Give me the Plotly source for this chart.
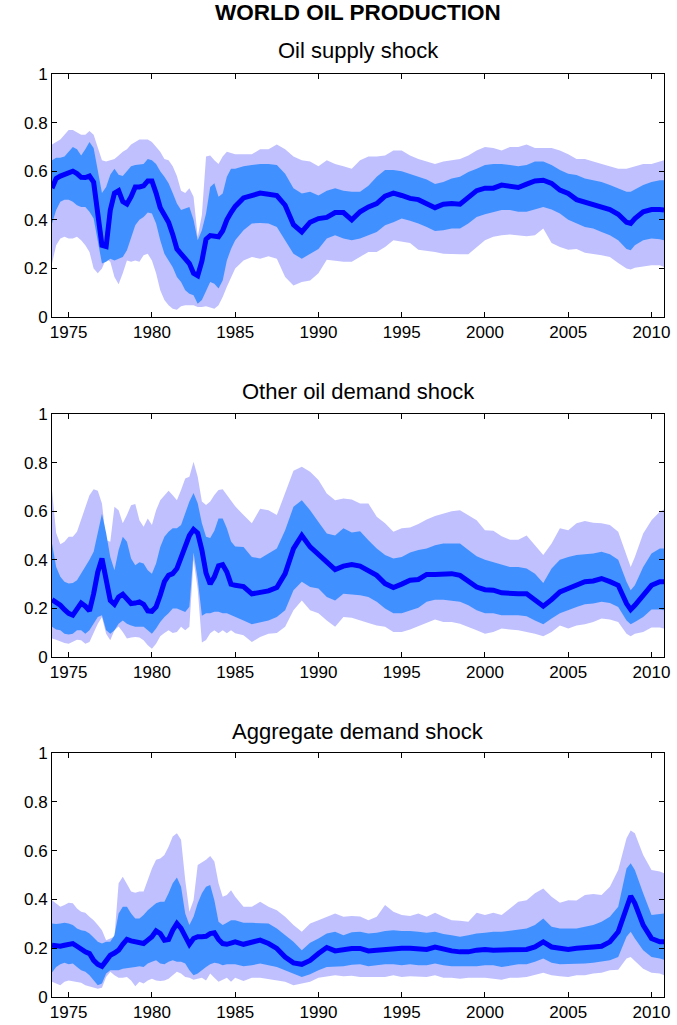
import plotly.graph_objects as go

# ---- time grid: quarterly 1974-1984, half-yearly 1985-2008.5, then tail ----
dates = ([1974 + 0.25 * i for i in range(44)]
         + [1985 + 0.5 * i for i in range(48)]
         + [2008.75, 2009.0, 2009.5, 2010.0, 2010.5, 2010.75])

panel_titles = ["Oil supply shock", "Other oil demand shock", "Aggregate demand shock"]
x_ticks = [1975, 1980, 1985, 1990, 1995, 2000, 2005, 2010]
y_ticks = [0, 0.2, 0.4, 0.6, 0.8, 1]
y_tick_labels = ["0", "0.2", "0.4", "0.6", "0.8", "1"]

# ---------------- Panel 1: Oil supply shock ----------------
supply_outer_hi = [0.71,0.72,0.73,0.75, 0.77,0.77,0.76,0.75, 0.75,0.765,0.75,0.70, 0.645,0.64,0.645,0.65,
    0.665,0.68,0.69,0.71, 0.72,0.73,0.73,0.73, 0.72,0.70,0.68,0.65, 0.645,0.62,0.58,0.52,
    0.51,0.53,0.495,0.33, 0.42,0.66,0.665,0.645, 0.63,0.66,0.68,0.675,
    0.67,0.67,0.67,0.69,0.69,0.71,0.69,0.66,0.645,0.64, 0.62,0.645,0.63,0.62,0.61,0.645,0.66,0.66,0.665,0.685,
    0.685,0.665,0.65,0.64,0.63,0.64,0.645,0.65,0.665,0.685, 0.70,0.695,0.685,0.70,0.70,0.71,0.695,0.695,0.695,0.685,
    0.67,0.65,0.65,0.64,0.63,0.62,0.61,0.61,
    0.615,0.62,0.63,0.63,0.64,0.645]
supply_inner_hi = [0.645,0.655,0.655,0.66, 0.68,0.70,0.69,0.665, 0.69,0.72,0.695,0.60, 0.51,0.535,0.585,0.61,
    0.585,0.58,0.60,0.62, 0.625,0.628,0.63,0.65, 0.645,0.63,0.60,0.577, 0.55,0.51,0.467,0.44,
    0.446,0.453,0.40,0.316, 0.357,0.426,0.535,0.55, 0.495,0.508,0.577,0.61,
    0.61,0.62,0.625,0.63,0.63,0.625,0.59,0.53,0.508,0.515, 0.50,0.52,0.53,0.52,0.515,0.515,0.54,0.577,0.605,0.605,
    0.60,0.59,0.577,0.566,0.547,0.556,0.57,0.577,0.597,0.61, 0.625,0.63,0.63,0.625,0.62,0.625,0.64,0.64,0.625,0.605,
    0.59,0.584,0.57,0.563,0.556,0.543,0.53,0.515,
    0.515,0.525,0.543,0.556,0.563,0.563]
supply_median = [0.53,0.57,0.58,0.585, 0.59,0.60,0.59,0.575, 0.574,0.58,0.555,0.44, 0.295,0.29,0.44,0.51,
    0.52,0.475,0.465,0.495, 0.535,0.535,0.54,0.56, 0.56,0.51,0.45,0.42, 0.39,0.34,0.28,0.26,
    0.24,0.22,0.18,0.17, 0.23,0.32,0.335,0.335, 0.33,0.355,0.40,0.43,
    0.455,0.49,0.50,0.51,0.505,0.50,0.46,0.38,0.35,0.39, 0.405,0.41,0.43,0.43,0.40,0.433,0.453,0.467,0.497,0.51,
    0.50,0.488,0.483,0.467,0.45,0.464,0.467,0.464,0.495,0.52, 0.53,0.53,0.543,0.538,0.533,0.547,0.56,0.563,0.55,0.522,
    0.508,0.483,0.474,0.464,0.453,0.442,0.423,0.39,
    0.385,0.405,0.433,0.442,0.442,0.44]
supply_inner_lo = [0.385,0.44,0.474,0.483, 0.483,0.474,0.46,0.453, 0.453,0.433,0.405,0.316, 0.22,0.227,0.24,0.233,
    0.24,0.247,0.275,0.33, 0.378,0.40,0.412,0.43, 0.426,0.385,0.316,0.26, 0.233,0.205,0.165,0.144,
    0.11,0.096,0.09,0.055, 0.07,0.11,0.144,0.137, 0.117,0.15,0.233,0.28,
    0.316,0.357,0.385,0.387,0.385,0.37,0.316,0.26,0.24,0.26, 0.28,0.323,0.336,0.323,0.316,0.323,0.336,0.35,0.378,0.39,
    0.405,0.396,0.385,0.37,0.354,0.357,0.364,0.364,0.385,0.412, 0.423,0.433,0.44,0.44,0.433,0.433,0.442,0.453,0.442,0.426,
    0.40,0.385,0.37,0.364,0.35,0.336,0.316,0.28,
    0.275,0.295,0.316,0.323,0.32,0.316]
supply_outer_lo = [0.22,0.295,0.323,0.33, 0.323,0.323,0.33,0.316, 0.295,0.268,0.20,0.18, 0.20,0.24,0.227,0.165,
    0.135,0.18,0.233,0.227, 0.233,0.227,0.254,0.26, 0.233,0.18,0.11,0.07, 0.048,0.034,0.03,0.044,
    0.048,0.048,0.048,0.041, 0.041,0.044,0.038,0.034, 0.048,0.082,0.124,0.165,
    0.20,0.233,0.247,0.24,0.25,0.24,0.165,0.13,0.144,0.15, 0.18,0.236,0.233,0.227,0.227,0.247,0.268,0.268,0.288,0.316,
    0.31,0.305,0.277,0.272,0.268,0.26,0.26,0.258,0.258,0.288, 0.316,0.33,0.336,0.34,0.336,0.332,0.336,0.364,0.305,0.288,
    0.277,0.28,0.264,0.26,0.254,0.247,0.222,0.20,
    0.195,0.203,0.209,0.213,0.213,0.206]

# ---------------- Panel 2: Other oil demand shock ----------------
other_outer_hi = [0.687,0.51,0.464,0.474, 0.495,0.495,0.515,0.563, 0.618,0.666,0.69,0.684, 0.632,0.48,0.474,0.618,
    0.604,0.55,0.584,0.625, 0.63,0.563,0.536,0.57, 0.543,0.604,0.645,0.666, 0.684,0.666,0.645,0.687,
    0.735,0.742,0.804,0.742, 0.64,0.626,0.64,0.667, 0.687,0.69,0.667,0.64,
    0.62,0.584,0.55,0.61,0.604,0.584,0.673,0.766,0.783,0.762, 0.728,0.673,0.645,0.652,0.648,0.632,0.632,0.577,0.55,0.515,
    0.53,0.533,0.547,0.566,0.58,0.59,0.60,0.604,0.584,0.563, 0.522,0.52,0.497,0.483,0.483,0.50,0.46,0.42,0.467,0.53,
    0.522,0.55,0.56,0.552,0.55,0.543,0.515,0.412,
    0.37,0.412,0.508,0.563,0.598,0.607]
other_inner_hi = [0.467,0.37,0.33,0.31, 0.302,0.305,0.316,0.343, 0.37,0.40,0.433,0.51, 0.59,0.51,0.412,0.357,
    0.44,0.495,0.474,0.405, 0.378,0.39,0.385,0.357, 0.343,0.385,0.453,0.495, 0.515,0.53,0.53,0.543,
    0.59,0.64,0.675,0.633, 0.55,0.495,0.49,0.52, 0.57,0.57,0.53,0.475,
    0.455,0.453,0.412,0.405,0.426,0.446,0.522,0.618,0.645,0.604, 0.556,0.508,0.50,0.53,0.512,0.518,0.48,0.446,0.42,0.405,
    0.412,0.43,0.44,0.446,0.46,0.467,0.467,0.467,0.44,0.415, 0.40,0.39,0.378,0.37,0.37,0.364,0.343,0.305,0.364,0.40,
    0.412,0.42,0.423,0.426,0.433,0.423,0.40,0.31,
    0.275,0.295,0.37,0.426,0.446,0.446]
other_median = [0.236,0.227,0.213,0.195, 0.18,0.172,0.20,0.222, 0.209,0.19,0.26,0.35, 0.405,0.316,0.233,0.217,
    0.247,0.258,0.236,0.22, 0.222,0.227,0.217,0.19, 0.188,0.206,0.254,0.31, 0.336,0.343,0.364,0.412,
    0.467,0.50,0.525,0.51, 0.44,0.345,0.30,0.33, 0.375,0.38,0.35,0.30,
    0.295,0.29,0.26,0.265,0.272,0.286,0.343,0.446,0.50,0.453, 0.42,0.39,0.36,0.374,0.38,0.374,0.357,0.336,0.302,0.286,
    0.30,0.316,0.319,0.34,0.34,0.34,0.343,0.336,0.31,0.288, 0.277,0.275,0.264,0.26,0.26,0.26,0.236,0.209,0.236,0.268,
    0.282,0.295,0.31,0.313,0.323,0.31,0.295,0.22,
    0.195,0.213,0.254,0.295,0.31,0.31]
other_inner_lo = [0.124,0.113,0.11,0.096, 0.093,0.096,0.11,0.11, 0.096,0.11,0.137,0.165, 0.172,0.11,0.096,0.11,
    0.137,0.15,0.137,0.13, 0.124,0.124,0.124,0.11, 0.096,0.117,0.144,0.165, 0.18,0.20,0.20,0.192,
    0.185,0.207,0.43,0.32, 0.17,0.18,0.18,0.186, 0.186,0.18,0.18,0.17,
    0.165,0.15,0.135,0.144,0.15,0.165,0.192,0.275,0.31,0.288, 0.282,0.247,0.233,0.26,0.257,0.254,0.247,0.227,0.20,0.18,
    0.18,0.192,0.203,0.227,0.236,0.236,0.233,0.227,0.213,0.192, 0.18,0.18,0.172,0.172,0.172,0.168,0.15,0.135,0.158,0.18,
    0.192,0.206,0.217,0.22,0.227,0.222,0.206,0.15,
    0.135,0.144,0.165,0.195,0.195,0.192]
other_outer_lo = [0.076,0.071,0.066,0.058, 0.055,0.062,0.071,0.069, 0.055,0.062,0.096,0.137, 0.165,0.096,0.069,0.11,
    0.126,0.103,0.076,0.08, 0.082,0.08,0.069,0.048, 0.034,0.055,0.085,0.099, 0.11,0.099,0.103,0.124,
    0.11,0.125,0.40,0.28, 0.06,0.07,0.098,0.11, 0.098,0.11,0.098,0.11,
    0.098,0.089,0.062,0.082,0.096,0.099,0.124,0.192,0.233,0.192, 0.18,0.15,0.124,0.165,0.162,0.15,0.14,0.13,0.124,0.103,
    0.103,0.113,0.126,0.14,0.154,0.144,0.144,0.137,0.124,0.11, 0.096,0.103,0.117,0.113,0.11,0.103,0.096,0.085,0.103,0.13,
    0.117,0.13,0.135,0.144,0.158,0.154,0.144,0.096,
    0.085,0.096,0.103,0.121,0.121,0.117]

# ---------------- Panel 3: Aggregate demand shock ----------------
agg_outer_hi = [0.397,0.384,0.37,0.377, 0.386,0.384,0.363,0.349, 0.345,0.329,0.315,0.295, 0.274,0.233,0.24,0.247,
    0.466,0.493,0.463,0.432, 0.427,0.432,0.432,0.479, 0.527,0.562,0.568,0.582, 0.616,0.658,0.671,0.644,
    0.479,0.349,0.397,0.541, 0.551,0.562,0.578,0.555, 0.466,0.411,0.418,0.438,
    0.411,0.37,0.37,0.39,0.37,0.356,0.329,0.295,0.267,0.301, 0.315,0.329,0.342,0.329,0.332,0.33,0.315,0.329,0.377,0.349,
    0.336,0.332,0.342,0.329,0.345,0.329,0.315,0.312,0.308,0.345, 0.336,0.345,0.336,0.363,0.39,0.397,0.425,0.445,0.411,0.386,
    0.397,0.395,0.418,0.422,0.418,0.452,0.521,0.651,
    0.682,0.671,0.582,0.521,0.514,0.507]
agg_inner_hi = [0.301,0.299,0.301,0.304, 0.301,0.295,0.281,0.274, 0.271,0.26,0.244,0.226, 0.219,0.226,0.226,0.253,
    0.342,0.37,0.37,0.342, 0.322,0.322,0.336,0.356, 0.37,0.384,0.39,0.39, 0.425,0.466,0.49,0.452,
    0.342,0.295,0.329,0.384, 0.425,0.452,0.459,0.397, 0.308,0.295,0.304,0.315,
    0.315,0.304,0.304,0.304,0.301,0.281,0.253,0.226,0.192,0.222, 0.24,0.26,0.267,0.253,0.265,0.267,0.26,0.263,0.271,0.274,
    0.271,0.271,0.267,0.263,0.267,0.258,0.253,0.247,0.253,0.26, 0.263,0.267,0.267,0.271,0.277,0.281,0.295,0.322,0.288,0.281,
    0.281,0.281,0.288,0.295,0.308,0.329,0.37,0.527,
    0.548,0.521,0.425,0.336,0.34,0.342]
agg_median = [0.212,0.208,0.208,0.212, 0.216,0.219,0.208,0.195, 0.185,0.178,0.15,0.134, 0.126,0.148,0.171,0.18,
    0.192,0.216,0.236,0.23, 0.226,0.226,0.219,0.233, 0.247,0.271,0.26,0.233, 0.236,0.274,0.301,0.281,
    0.247,0.216,0.24,0.247, 0.247,0.249,0.26,0.263, 0.236,0.219,0.216,0.222,
    0.226,0.216,0.226,0.233,0.219,0.199,0.164,0.14,0.134,0.15, 0.178,0.203,0.189,0.195,0.199,0.199,0.189,0.192,0.195,0.20,
    0.20,0.20,0.195,0.195,0.205,0.195,0.189,0.185,0.185,0.192, 0.195,0.192,0.192,0.195,0.195,0.195,0.205,0.226,0.205,0.199,
    0.195,0.20,0.20,0.205,0.208,0.226,0.267,0.37,
    0.414,0.384,0.295,0.24,0.226,0.226]
agg_inner_lo = [0.10,0.123,0.134,0.14, 0.134,0.137,0.123,0.11, 0.103,0.089,0.068,0.048, 0.055,0.096,0.11,0.11,
    0.11,0.116,0.12,0.12, 0.123,0.126,0.123,0.137, 0.144,0.151,0.137,0.134, 0.144,0.151,0.144,0.144,
    0.137,0.11,0.089,0.096, 0.11,0.123,0.134,0.14, 0.137,0.13,0.134,0.134,
    0.134,0.126,0.13,0.137,0.13,0.123,0.11,0.096,0.082,0.093, 0.11,0.123,0.123,0.126,0.132,0.134,0.126,0.13,0.134,0.134,
    0.13,0.134,0.13,0.13,0.137,0.13,0.126,0.126,0.126,0.126, 0.13,0.13,0.123,0.13,0.134,0.134,0.144,0.158,0.14,0.134,
    0.134,0.137,0.137,0.14,0.144,0.151,0.164,0.247,
    0.267,0.24,0.192,0.164,0.158,0.153]
agg_outer_lo = [0.062,0.055,0.048,0.062, 0.068,0.066,0.062,0.058, 0.048,0.041,0.038,0.034, 0.038,0.082,0.103,0.089,
    0.079,0.079,0.082,0.068, 0.044,0.062,0.055,0.068, 0.075,0.068,0.066,0.068, 0.075,0.089,0.103,0.096,
    0.082,0.079,0.071,0.075, 0.079,0.068,0.096,0.079, 0.062,0.071,0.079,0.062,
    0.079,0.066,0.079,0.079,0.075,0.068,0.062,0.048,0.055,0.062, 0.079,0.085,0.089,0.085,0.087,0.082,0.079,0.082,0.082,0.089,
    0.082,0.085,0.085,0.082,0.089,0.079,0.079,0.075,0.079,0.079, 0.079,0.075,0.071,0.079,0.079,0.082,0.089,0.099,0.089,0.085,
    0.082,0.089,0.089,0.096,0.099,0.11,0.112,0.158,
    0.164,0.148,0.116,0.099,0.096,0.089]

panels = [
    (supply_outer_hi, supply_inner_hi, supply_median, supply_inner_lo, supply_outer_lo),
    (other_outer_hi, other_inner_hi, other_median, other_inner_lo, other_outer_lo),
    (agg_outer_hi, agg_inner_hi, agg_median, agg_inner_lo, agg_outer_lo),
]
for p in panels:
    for s in p:
        assert len(s) == len(dates), (len(s), len(dates))

OUTER = "rgb(192,192,255)"
INNER = "rgb(64,145,255)"
MEDIAN = "rgb(0,0,255)"
FONT = "Liberation Sans, Arial, sans-serif"

# figure geometry (pixels)
W, H = 677, 1025
ML, MR, MT, MB = 52, 13, 74, 28
plot_h = H - MT - MB
# panel pixel extents (top, bottom)
panel_px = [(74, 317), (414, 657), (753, 997)]

def py(ypx):
    return (H - MB - ypx) / plot_h

fig = go.Figure()
for k, (ohi, ihi, med, ilo, olo) in enumerate(panels):
    xa = "x" if k == 0 else f"x{k+1}"
    ya = "y" if k == 0 else f"y{k+1}"
    xs = dates + dates[::-1]
    fig.add_trace(go.Scatter(x=xs, y=ohi + olo[::-1], fill="toself", fillcolor=OUTER,
                             line=dict(width=0), mode="lines", hoverinfo="skip",
                             showlegend=False, xaxis=xa, yaxis=ya))
    fig.add_trace(go.Scatter(x=xs, y=ihi + ilo[::-1], fill="toself", fillcolor=INNER,
                             line=dict(width=0), mode="lines", hoverinfo="skip",
                             showlegend=False, xaxis=xa, yaxis=ya))
    fig.add_trace(go.Scatter(x=dates, y=med, mode="lines",
                             line=dict(color=MEDIAN, width=5),
                             showlegend=False, xaxis=xa, yaxis=ya))

axis_common = dict(showline=True, linecolor="black", linewidth=1, mirror="ticks",
                   ticks="inside", ticklen=5, tickcolor="black", tickwidth=1,
                   showgrid=False, zeroline=False, automargin=False,
                   tickfont=dict(family=FONT, size=17, color="black"))

layout = dict(width=W, height=H, margin=dict(l=ML, r=MR, t=MT, b=MB, autoexpand=False),
              plot_bgcolor="white", paper_bgcolor="white", showlegend=False)
for k, (top, bot) in enumerate(panel_px):
    xname = "xaxis" if k == 0 else f"xaxis{k+1}"
    yname = "yaxis" if k == 0 else f"yaxis{k+1}"
    ya = "y" if k == 0 else f"y{k+1}"
    xa = "x" if k == 0 else f"x{k+1}"
    layout[xname] = dict(axis_common, domain=[0, 1], anchor=ya, range=[1974, 2010.75],
                         tickvals=x_ticks, ticktext=[str(v) for v in x_ticks])
    layout[yname] = dict(axis_common, domain=[py(bot), py(top)], anchor=xa, range=[0, 1],
                         tickvals=y_ticks, ticktext=y_tick_labels)
fig.update_layout(**layout)

annotations = [dict(text="<b>WORLD OIL PRODUCTION</b>", x=0.5, xref="paper", y=py(13), yref="paper",
                    xanchor="center", yanchor="middle", showarrow=False,
                    font=dict(family=FONT, size=22.5, color="black"))]
title_px = [51, 391, 731]
for t, ypx in zip(panel_titles, title_px):
    annotations.append(dict(text=t, x=0.5, xref="paper", y=py(ypx), yref="paper",
                            xanchor="center", yanchor="middle", showarrow=False,
                            font=dict(family=FONT, size=22, color="black")))
fig.update_layout(annotations=annotations)

fig.write_html("out.html", config={"displayModeBar": False},
               post_script="document.body.style.margin='0';document.body.style.padding='0';"
                           "document.body.style.overflow='hidden';")
